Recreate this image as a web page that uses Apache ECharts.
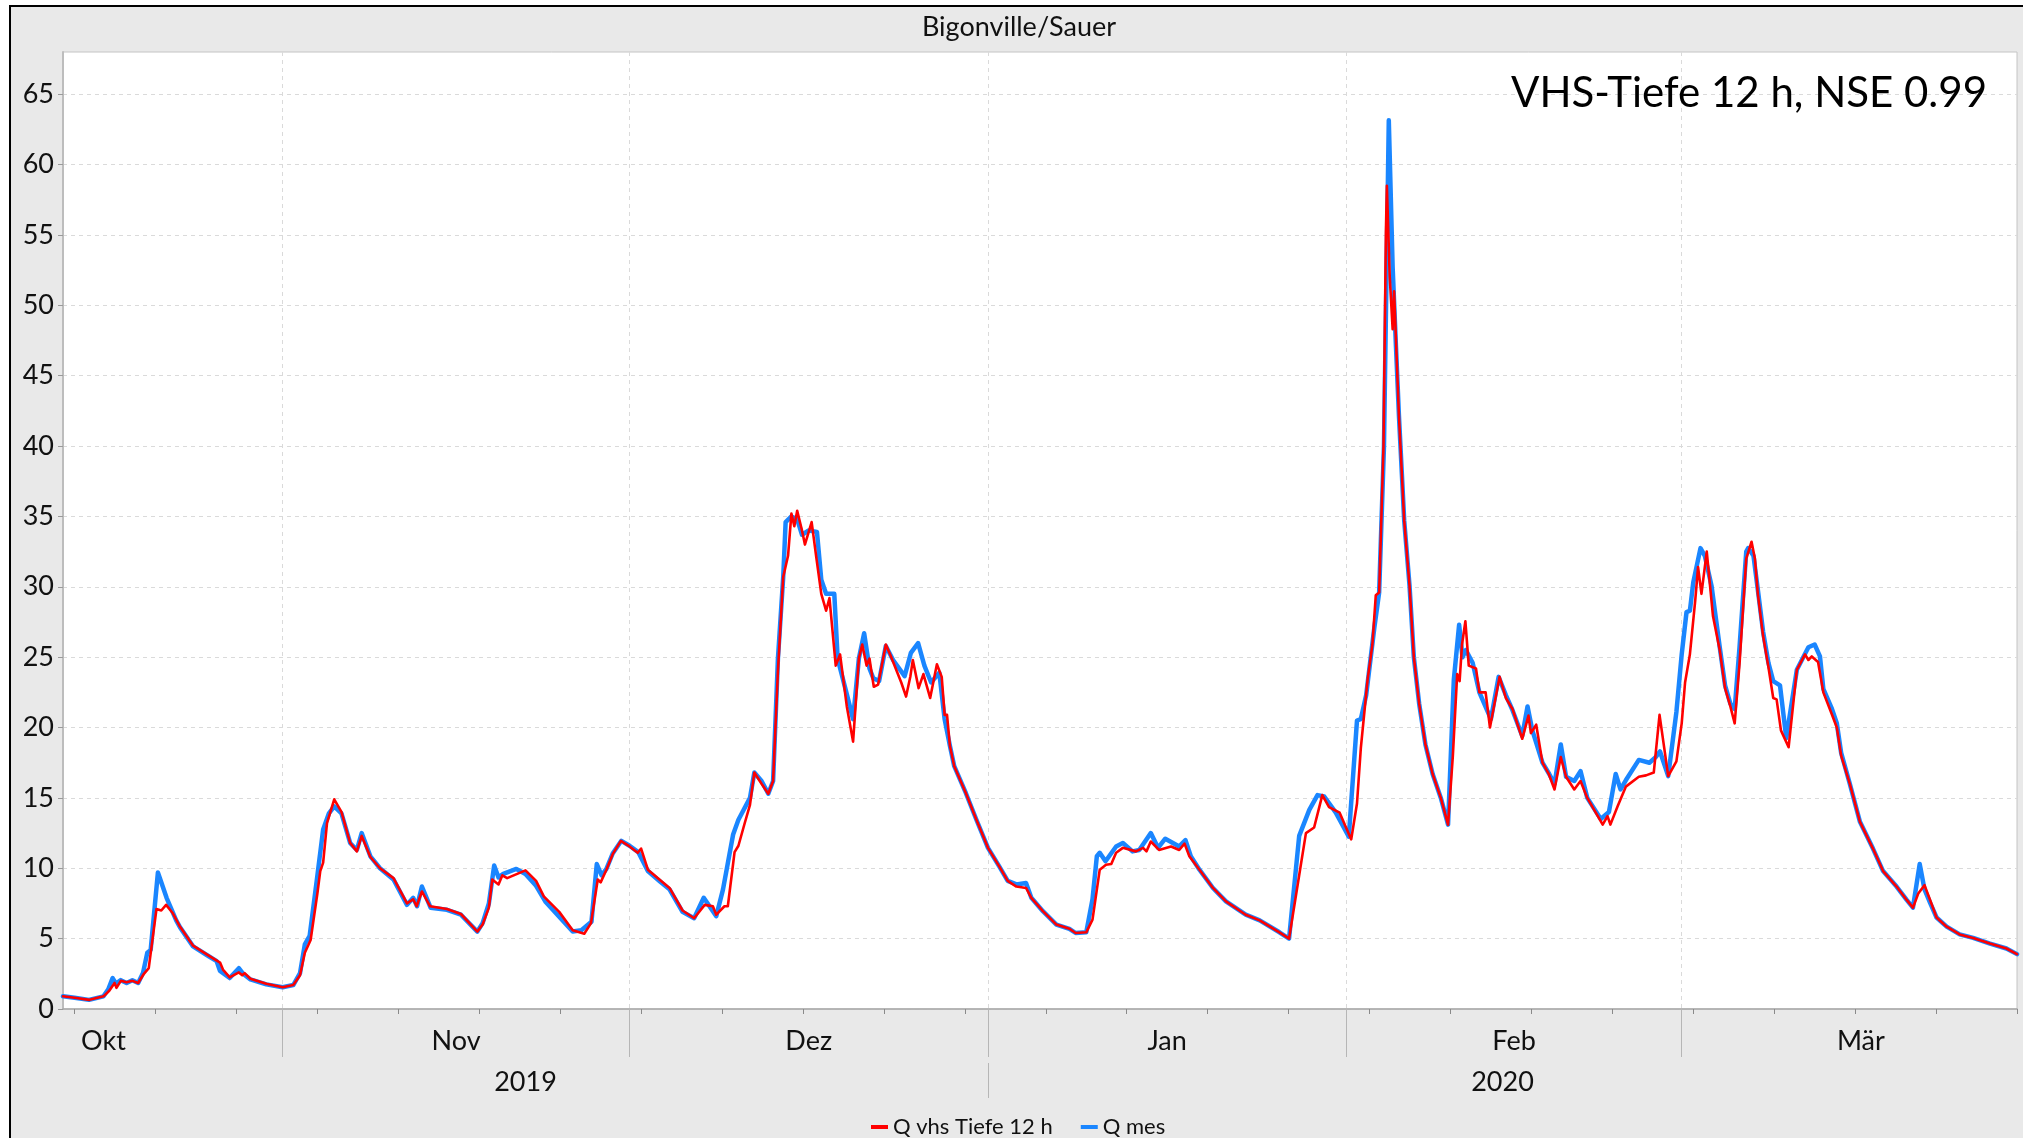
<!DOCTYPE html>
<html>
<head>
<meta charset="utf-8">
<title>Bigonville/Sauer</title>
<script src="https://cdn.jsdelivr.net/npm/echarts@6/dist/echarts.min.js"></script>
<style>
  html, body { margin: 0; padding: 0; background: #fff; }
  #chart { width: 2023px; height: 1138px; }
</style>
</head>
<body>
<div id="chart"></div>
<script>
// Month and year labels of the time axis, value-axis ticks
const monthNames = ['Jan', 'Feb', 'Mär', 'Apr', 'Mai', 'Jun', 'Jul', 'Aug', 'Sep', 'Okt', 'Nov', 'Dez'];
const yearLabels = [2019, 2020];
const yTicks = [0, 5, 10, 15, 20, 25, 30, 35, 40, 45, 50, 55, 60, 65];
const seriesNames = ['Q vhs Tiefe 12 h', 'Q mes'];
const timeRange = ['2019-10-13 00', '2020-03-30 00'];

// Simulated discharge, VHS model with 12 h depth
const qVhs = [
  ['2019-10-13 00', 0.9], ['2019-10-14 00', 0.8], ['2019-10-15 07', 0.65], ['2019-10-16 12', 0.9],
  ['2019-10-17 00', 1.3], ['2019-10-17 11', 1.85], ['2019-10-17 15', 1.5], ['2019-10-18 00', 2.0],
  ['2019-10-18 12', 1.9], ['2019-10-19 00', 2.0], ['2019-10-19 12', 1.85], ['2019-10-20 00', 2.5],
  ['2019-10-20 10', 2.9], ['2019-10-20 14', 2.8], ['2019-10-21 02', 7.1], ['2019-10-21 12', 7.0],
  ['2019-10-21 22', 7.4], ['2019-10-22 12', 6.8], ['2019-10-23 02', 5.9], ['2019-10-24 06', 4.5],
  ['2019-10-25 12', 3.85], ['2019-10-26 14', 3.3], ['2019-10-26 20', 2.8], ['2019-10-27 10', 2.25],
  ['2019-10-28 05', 2.6], ['2019-10-28 12', 2.4], ['2019-10-28 17', 2.55], ['2019-10-29 05', 2.15],
  ['2019-10-30 14', 1.8], ['2019-11-01 00', 1.55], ['2019-11-01 22', 1.7], ['2019-11-02 12', 2.4],
  ['2019-11-02 22', 4.0], ['2019-11-03 10', 4.9], ['2019-11-04 00', 8.2], ['2019-11-04 06', 9.8],
  ['2019-11-04 12', 10.4], ['2019-11-04 20', 13.2], ['2019-11-05 11', 14.9], ['2019-11-06 02', 14.0],
  ['2019-11-06 20', 11.8], ['2019-11-07 10', 11.2], ['2019-11-07 20', 12.3], ['2019-11-08 14', 10.8],
  ['2019-11-09 10', 10.0], ['2019-11-10 14', 9.3], ['2019-11-11 18', 7.5], ['2019-11-12 07', 7.8],
  ['2019-11-12 14', 7.3], ['2019-11-13 01', 8.35], ['2019-11-13 18', 7.3], ['2019-11-15 05', 7.1],
  ['2019-11-16 10', 6.75], ['2019-11-17 20', 5.5], ['2019-11-18 07', 6.0], ['2019-11-18 20', 7.2],
  ['2019-11-19 03', 9.2], ['2019-11-19 16', 8.85], ['2019-11-20 00', 9.5], ['2019-11-20 10', 9.3],
  ['2019-11-22 00', 9.85], ['2019-11-22 22', 9.1], ['2019-11-23 14', 8.0], ['2019-11-24 22', 6.9],
  ['2019-11-26 02', 5.6], ['2019-11-27 02', 5.35], ['2019-11-27 16', 6.1], ['2019-11-28 06', 9.2],
  ['2019-11-28 12', 9.0], ['2019-11-29 00', 9.9], ['2019-11-29 13', 11.0], ['2019-11-30 06', 11.95],
  ['2019-12-01 00', 11.55], ['2019-12-01 17', 11.1], ['2019-12-02 00', 11.4], ['2019-12-02 14', 9.9],
  ['2019-12-03 14', 9.2], ['2019-12-04 11', 8.6], ['2019-12-05 14', 7.0], ['2019-12-06 14', 6.45],
  ['2019-12-07 12', 7.4], ['2019-12-08 05', 7.3], ['2019-12-08 12', 6.7], ['2019-12-09 05', 7.3],
  ['2019-12-09 12', 7.3], ['2019-12-10 02', 11.15], ['2019-12-10 10', 11.6], ['2019-12-10 23', 13.2],
  ['2019-12-11 10', 14.5], ['2019-12-11 19', 16.8], ['2019-12-12 10', 16.0], ['2019-12-13 00', 15.3],
  ['2019-12-13 10', 16.2], ['2019-12-13 20', 24.0], ['2019-12-14 07', 30.7], ['2019-12-14 17', 32.2],
  ['2019-12-15 00', 35.2], ['2019-12-15 06', 34.3], ['2019-12-15 12', 35.4], ['2019-12-15 22', 34.0],
  ['2019-12-16 04', 33.0], ['2019-12-16 18', 34.6], ['2019-12-17 04', 32.0], ['2019-12-17 14', 29.5],
  ['2019-12-18 00', 28.3], ['2019-12-18 07', 29.2], ['2019-12-18 20', 24.4], ['2019-12-19 05', 25.2],
  ['2019-12-19 19', 21.5], ['2019-12-20 08', 19.0], ['2019-12-20 20', 24.9], ['2019-12-21 03', 25.9],
  ['2019-12-21 12', 24.4], ['2019-12-21 18', 24.9], ['2019-12-22 03', 22.9], ['2019-12-22 12', 23.05],
  ['2019-12-23 04', 25.9], ['2019-12-23 14', 25.1], ['2019-12-24 12', 23.2], ['2019-12-24 22', 22.2],
  ['2019-12-25 07', 23.65], ['2019-12-25 12', 24.8], ['2019-12-26 00', 22.8], ['2019-12-26 10', 23.8],
  ['2019-12-27 00', 22.1], ['2019-12-27 14', 24.5], ['2019-12-28 00', 23.6], ['2019-12-28 06', 20.9],
  ['2019-12-28 11', 20.9], ['2019-12-28 17', 18.7], ['2019-12-29 02', 17.25], ['2019-12-30 02', 15.35],
  ['2019-12-31 00', 13.45], ['2020-01-01 00', 11.45], ['2020-01-02 00', 10.1], ['2020-01-02 17', 9.1],
  ['2020-01-03 11', 8.7], ['2020-01-04 07', 8.6], ['2020-01-04 18', 7.9], ['2020-01-05 18', 6.95],
  ['2020-01-06 22', 6.0], ['2020-01-08 01', 5.7], ['2020-01-08 14', 5.4], ['2020-01-09 12', 5.45],
  ['2020-01-10 01', 6.35], ['2020-01-10 16', 9.9], ['2020-01-11 05', 10.25], ['2020-01-11 16', 10.3],
  ['2020-01-12 02', 11.1], ['2020-01-12 16', 11.45], ['2020-01-13 19', 11.2], ['2020-01-14 10', 11.45],
  ['2020-01-14 17', 11.2], ['2020-01-15 02', 11.9], ['2020-01-15 19', 11.3], ['2020-01-16 20', 11.55],
  ['2020-01-17 13', 11.3], ['2020-01-18 00', 11.75], ['2020-01-18 10', 10.85], ['2020-01-19 07', 9.9],
  ['2020-01-20 11', 8.6], ['2020-01-21 14', 7.65], ['2020-01-23 07', 6.7], ['2020-01-24 12', 6.3],
  ['2020-01-26 05', 5.45], ['2020-01-27 01', 5.0], ['2020-01-27 22', 9.5], ['2020-01-28 12', 12.5],
  ['2020-01-29 05', 12.9], ['2020-01-29 22', 15.2], ['2020-01-30 12', 14.35], ['2020-01-31 10', 13.95],
  ['2020-02-01 10', 12.05], ['2020-02-01 22', 14.6], ['2020-02-02 06', 18.55], ['2020-02-02 20', 23.4],
  ['2020-02-03 06', 25.9], ['2020-02-03 13', 29.4], ['2020-02-03 20', 29.6], ['2020-02-04 05', 40.0],
  ['2020-02-04 10', 55.2], ['2020-02-04 12', 58.5], ['2020-02-04 18', 52.0], ['2020-02-05 00', 48.3],
  ['2020-02-05 03', 51.0], ['2020-02-05 13', 42.2], ['2020-02-06 00', 34.7], ['2020-02-06 11', 30.1],
  ['2020-02-06 20', 25.0], ['2020-02-07 07', 21.7], ['2020-02-07 20', 18.8], ['2020-02-08 11', 16.7],
  ['2020-02-09 04', 15.0], ['2020-02-09 19', 13.1], ['2020-02-10 05', 18.0], ['2020-02-10 14', 23.8],
  ['2020-02-10 19', 23.3], ['2020-02-11 00', 25.9], ['2020-02-11 07', 27.55], ['2020-02-11 14', 24.4],
  ['2020-02-12 05', 24.2], ['2020-02-12 12', 22.5], ['2020-02-13 01', 22.5], ['2020-02-13 10', 20.0],
  ['2020-02-14 06', 23.6], ['2020-02-14 19', 22.1], ['2020-02-15 09', 21.3], ['2020-02-16 05', 19.2],
  ['2020-02-16 18', 20.85], ['2020-02-16 23', 19.6], ['2020-02-17 10', 20.2], ['2020-02-17 23', 17.5],
  ['2020-02-18 12', 16.7], ['2020-02-19 00', 15.6], ['2020-02-19 13', 17.9], ['2020-02-20 00', 16.5],
  ['2020-02-20 17', 15.6], ['2020-02-21 06', 16.2], ['2020-02-21 20', 15.0], ['2020-02-23 04', 13.1],
  ['2020-02-23 14', 13.7], ['2020-02-23 20', 13.1], ['2020-02-24 11', 14.4], ['2020-02-25 04', 15.8],
  ['2020-02-26 07', 16.5], ['2020-02-26 22', 16.6], ['2020-02-27 14', 16.8], ['2020-02-28 02', 20.9],
  ['2020-02-28 20', 16.55], ['2020-02-29 13', 17.6], ['2020-03-01 00', 20.3], ['2020-03-01 07', 23.2],
  ['2020-03-01 17', 25.2], ['2020-03-02 04', 29.0], ['2020-03-02 10', 31.4], ['2020-03-02 17', 29.5],
  ['2020-03-03 04', 32.5], ['2020-03-03 17', 27.9], ['2020-03-04 07', 25.5], ['2020-03-04 18', 22.8],
  ['2020-03-05 05', 21.5], ['2020-03-05 14', 20.3], ['2020-03-06 00', 24.5], ['2020-03-06 14', 32.0],
  ['2020-03-07 01', 33.2], ['2020-03-07 08', 32.0], ['2020-03-07 14', 29.5], ['2020-03-08 01', 26.5],
  ['2020-03-08 12', 24.3], ['2020-03-08 22', 22.1], ['2020-03-09 05', 22.0], ['2020-03-09 14', 19.8],
  ['2020-03-10 06', 18.6], ['2020-03-10 23', 24.1], ['2020-03-11 16', 25.2], ['2020-03-11 23', 24.8],
  ['2020-03-12 06', 25.05], ['2020-03-12 19', 24.65], ['2020-03-13 06', 22.5], ['2020-03-13 23', 21.0],
  ['2020-03-14 10', 20.0], ['2020-03-14 19', 18.0], ['2020-03-15 13', 16.0], ['2020-03-16 10', 13.3],
  ['2020-03-17 13', 11.4], ['2020-03-18 10', 9.8], ['2020-03-19 14', 8.7], ['2020-03-20 11', 7.75],
  ['2020-03-21 00', 7.2], ['2020-03-21 11', 8.2], ['2020-03-22 00', 8.8], ['2020-03-22 11', 7.8],
  ['2020-03-23 01', 6.5], ['2020-03-23 22', 5.85], ['2020-03-25 01', 5.3], ['2020-03-26 05', 5.05],
  ['2020-03-27 16', 4.65], ['2020-03-29 02', 4.3], ['2020-03-30 00', 3.9]
];

// Measured discharge
const qMes = [
  ['2019-10-13 00', 0.9], ['2019-10-14 00', 0.8], ['2019-10-15 06', 0.65], ['2019-10-16 12', 0.9],
  ['2019-10-16 22', 1.4], ['2019-10-17 07', 2.2], ['2019-10-17 14', 1.8], ['2019-10-18 00', 2.05],
  ['2019-10-18 12', 1.85], ['2019-10-19 00', 2.05], ['2019-10-19 12', 1.85], ['2019-10-19 22', 2.55],
  ['2019-10-20 07', 4.0], ['2019-10-20 14', 4.2], ['2019-10-21 05', 9.7], ['2019-10-21 12', 9.0],
  ['2019-10-21 23', 7.9], ['2019-10-22 19', 6.3], ['2019-10-23 03', 5.8], ['2019-10-24 06', 4.45],
  ['2019-10-25 12', 3.8], ['2019-10-26 07', 3.4], ['2019-10-26 14', 2.7], ['2019-10-27 10', 2.2],
  ['2019-10-28 05', 2.9], ['2019-10-28 14', 2.5], ['2019-10-29 05', 2.1], ['2019-10-30 14', 1.75],
  ['2019-11-01 00', 1.55], ['2019-11-01 22', 1.7], ['2019-11-02 12', 2.55], ['2019-11-02 22', 4.6],
  ['2019-11-03 08', 5.2], ['2019-11-03 23', 9.2], ['2019-11-04 12', 12.75], ['2019-11-05 00', 13.9],
  ['2019-11-05 11', 14.4], ['2019-11-06 02', 13.9], ['2019-11-06 20', 11.8], ['2019-11-07 10', 11.3],
  ['2019-11-07 20', 12.5], ['2019-11-08 14', 10.85], ['2019-11-09 10', 10.0], ['2019-11-10 14', 9.2],
  ['2019-11-11 18', 7.4], ['2019-11-12 07', 7.9], ['2019-11-12 15', 7.3], ['2019-11-13 01', 8.7],
  ['2019-11-13 19', 7.2], ['2019-11-15 05', 7.05], ['2019-11-16 10', 6.7], ['2019-11-17 20', 5.5],
  ['2019-11-18 07', 6.1], ['2019-11-18 20', 7.5], ['2019-11-19 07', 10.2], ['2019-11-19 16', 9.35],
  ['2019-11-20 02', 9.6], ['2019-11-21 05', 9.95], ['2019-11-22 00', 9.6], ['2019-11-22 22', 8.75],
  ['2019-11-23 18', 7.6], ['2019-11-24 22', 6.55], ['2019-11-26 02', 5.5], ['2019-11-26 20', 5.6],
  ['2019-11-27 17', 6.2], ['2019-11-28 04', 10.3], ['2019-11-28 14', 9.5], ['2019-11-29 00', 9.95],
  ['2019-11-29 13', 11.05], ['2019-11-30 07', 11.95], ['2019-12-01 00', 11.6], ['2019-12-01 18', 11.15],
  ['2019-12-02 14', 9.8], ['2019-12-03 14', 9.1], ['2019-12-04 11', 8.5], ['2019-12-05 14', 6.9],
  ['2019-12-06 14', 6.45], ['2019-12-07 10', 7.9], ['2019-12-08 12', 6.6], ['2019-12-09 02', 8.5],
  ['2019-12-09 23', 12.4], ['2019-12-10 10', 13.45], ['2019-12-11 10', 15.0], ['2019-12-11 19', 16.8],
  ['2019-12-12 10', 16.2], ['2019-12-13 00', 15.3], ['2019-12-13 10', 16.2], ['2019-12-13 20', 24.9],
  ['2019-12-14 07', 30.7], ['2019-12-14 12', 34.6], ['2019-12-15 00', 35.0], ['2019-12-15 12', 34.8],
  ['2019-12-15 22', 33.7], ['2019-12-16 12', 34.0], ['2019-12-17 05', 33.9], ['2019-12-17 14', 30.5],
  ['2019-12-18 00', 29.5], ['2019-12-18 17', 29.5], ['2019-12-19 00', 24.9], ['2019-12-19 18', 22.5],
  ['2019-12-20 08', 20.6], ['2019-12-20 20', 24.9], ['2019-12-21 07', 26.7], ['2019-12-21 18', 24.2],
  ['2019-12-22 02', 23.5], ['2019-12-22 14', 23.3], ['2019-12-23 04', 25.8], ['2019-12-23 19', 24.8],
  ['2019-12-24 19', 23.65], ['2019-12-25 08', 25.3], ['2019-12-25 23', 26.0], ['2019-12-26 12', 24.4],
  ['2019-12-27 02', 23.2], ['2019-12-27 19', 23.9], ['2019-12-28 06', 20.6], ['2019-12-28 17', 18.7],
  ['2019-12-29 02', 17.25], ['2019-12-30 02', 15.35], ['2019-12-31 00', 13.45], ['2020-01-01 00', 11.45],
  ['2020-01-02 00', 10.1], ['2020-01-02 17', 9.1], ['2020-01-03 11', 8.85], ['2020-01-04 07', 8.95],
  ['2020-01-04 18', 7.9], ['2020-01-05 18', 6.95], ['2020-01-06 22', 6.0], ['2020-01-08 01', 5.7],
  ['2020-01-08 14', 5.4], ['2020-01-09 12', 5.45], ['2020-01-10 01', 7.8], ['2020-01-10 10', 10.85],
  ['2020-01-10 16', 11.1], ['2020-01-11 04', 10.5], ['2020-01-12 02', 11.55], ['2020-01-12 16', 11.8],
  ['2020-01-13 12', 11.2], ['2020-01-14 02', 11.3], ['2020-01-15 02', 12.5], ['2020-01-15 17', 11.45],
  ['2020-01-16 08', 12.1], ['2020-01-17 13', 11.55], ['2020-01-18 02', 12.0], ['2020-01-18 13', 10.85],
  ['2020-01-19 07', 9.9], ['2020-01-20 11', 8.6], ['2020-01-21 14', 7.65], ['2020-01-23 07', 6.7],
  ['2020-01-24 12', 6.3], ['2020-01-26 05', 5.45], ['2020-01-27 01', 5.0], ['2020-01-27 22', 12.3],
  ['2020-01-28 19', 14.15], ['2020-01-29 12', 15.2], ['2020-01-30 02', 15.1], ['2020-01-31 02', 13.95],
  ['2020-02-01 05', 12.25], ['2020-02-01 22', 20.5], ['2020-02-02 06', 20.6], ['2020-02-02 17', 22.3],
  ['2020-02-03 10', 27.1], ['2020-02-03 20', 29.6], ['2020-02-04 06', 40.0], ['2020-02-04 16', 63.15],
  ['2020-02-05 00', 52.7], ['2020-02-05 07', 47.0], ['2020-02-05 13', 42.2], ['2020-02-06 00', 34.7],
  ['2020-02-06 11', 30.1], ['2020-02-06 20', 25.0], ['2020-02-07 07', 21.7], ['2020-02-07 20', 18.8],
  ['2020-02-08 11', 16.7], ['2020-02-09 04', 15.0], ['2020-02-09 19', 13.1], ['2020-02-10 07', 23.4],
  ['2020-02-10 18', 27.3], ['2020-02-11 01', 25.0], ['2020-02-11 08', 25.5], ['2020-02-11 22', 24.6],
  ['2020-02-12 12', 22.5], ['2020-02-13 12', 20.6], ['2020-02-14 04', 23.6], ['2020-02-14 19', 22.3],
  ['2020-02-15 08', 21.3], ['2020-02-16 05', 19.4], ['2020-02-16 16', 21.5], ['2020-02-17 02', 19.8],
  ['2020-02-17 23', 17.5], ['2020-02-18 13', 16.7], ['2020-02-19 00', 16.0], ['2020-02-19 13', 18.8],
  ['2020-02-20 00', 16.5], ['2020-02-20 17', 16.2], ['2020-02-21 06', 16.9], ['2020-02-21 20', 15.0],
  ['2020-02-23 00', 13.5], ['2020-02-23 17', 14.0], ['2020-02-24 07', 16.7], ['2020-02-24 17', 15.6],
  ['2020-02-25 04', 16.25], ['2020-02-26 07', 17.7], ['2020-02-27 05', 17.5], ['2020-02-27 18', 17.9],
  ['2020-02-28 03', 18.3], ['2020-02-28 20', 16.55], ['2020-02-29 13', 21.1], ['2020-03-01 00', 25.2],
  ['2020-03-01 10', 28.2], ['2020-03-01 17', 28.3], ['2020-03-02 00', 30.3], ['2020-03-02 15', 32.75],
  ['2020-03-03 00', 32.2], ['2020-03-03 14', 30.05], ['2020-03-04 07', 25.7], ['2020-03-04 18', 23.0],
  ['2020-03-05 05', 21.7], ['2020-03-05 14', 21.3], ['2020-03-06 00', 25.7], ['2020-03-06 14', 32.5],
  ['2020-03-06 18', 32.75], ['2020-03-07 05', 32.2], ['2020-03-07 14', 29.8], ['2020-03-08 01', 26.8],
  ['2020-03-08 12', 24.6], ['2020-03-08 22', 23.3], ['2020-03-09 12', 23.0], ['2020-03-10 01', 19.25],
  ['2020-03-10 23', 24.1], ['2020-03-11 23', 25.7], ['2020-03-12 12', 25.9], ['2020-03-12 23', 25.05],
  ['2020-03-13 06', 22.75], ['2020-03-13 23', 21.4], ['2020-03-14 10', 20.3], ['2020-03-14 19', 18.2],
  ['2020-03-15 13', 16.0], ['2020-03-16 10', 13.3], ['2020-03-17 13', 11.4], ['2020-03-18 10', 9.8],
  ['2020-03-19 14', 8.7], ['2020-03-20 11', 7.75], ['2020-03-21 00', 7.2], ['2020-03-21 14', 10.3],
  ['2020-03-22 00', 8.5], ['2020-03-22 11', 7.6], ['2020-03-23 01', 6.5], ['2020-03-23 22', 5.85],
  ['2020-03-25 01', 5.3], ['2020-03-26 05', 5.05], ['2020-03-27 16', 4.65], ['2020-03-29 02', 4.3],
  ['2020-03-30 00', 3.9]
];

// 'YYYY-MM-DD HH' -> local timestamp
function ts(s) {
  const [d, h] = s.split(' ');
  const [y, m, dd] = d.split('-').map(Number);
  return new Date(y, m - 1, dd, Number(h)).getTime();
}

const tMin = ts(timeRange[0]);
const tMax = ts(timeRange[1]);

// Weekly minor ticks on Mondays
const mondays = [];
for (let k = 0; ; k++) {
  const t = new Date(2019, 9, 14 + 7 * k).getTime();
  if (t > tMax) break;
  if (t >= tMin) mondays.push(t);
}

// Month boundaries (separator ticks + vertical grid) and month centres (labels)
const monthStarts = [];
const monthMids = [];
for (let k = 0; k < 6; k++) {
  const a = new Date(2019, 9 + k, 1).getTime();
  const b = new Date(2019, 10 + k, 1).getTime();
  if (a > tMin && a < tMax) monthStarts.push(a);
  monthMids.push((a + b) / 2);
}

// Year boundary and centre of the visible part of each year
const yearStarts = yearLabels.slice(1).map(y => new Date(y, 0, 1).getTime());
const yearMids = yearLabels.map(y => {
  const a = Math.max(tMin, new Date(y, 0, 1).getTime());
  const b = Math.min(tMax, new Date(y + 1, 0, 1).getTime());
  return (a + b) / 2;
});

const FONT = 'Lato, "Noto Sans", sans-serif';
const GRID_LINE = { color: '#dadada', width: 1, type: [4, 4] };

const chart = echarts.init(document.getElementById('chart'), null, { renderer: 'canvas' });

// The horizontal axes are plain value axes over timestamps with explicit tick lists
const timeAxisBase = { type: 'value', min: tMin, max: tMax, position: 'bottom', scale: true };

chart.setOption({
  animation: false,
  backgroundColor: '#ffffff',
  graphic: [
    {
      type: 'rect', z: -10, silent: true,
      shape: { x: 10, y: 6, width: 2040, height: 1160 },
      style: { fill: '#e9e9e9', stroke: '#000', lineWidth: 2 }
    },
    {
      type: 'text', z: 50, x: 1019, y: 27,
      style: { text: 'Bigonville/Sauer', fontSize: 27, fontFamily: FONT, fill: '#111', align: 'center', verticalAlign: 'middle' }
    },
    {
      type: 'text', z: 50, x: 1987, y: 93,
      style: { text: 'VHS-Tiefe 12 h, NSE 0.99', fontSize: 42, fontFamily: FONT, fill: '#000', align: 'right', verticalAlign: 'middle' }
    }
  ],
  legend: {
    data: seriesNames,
    left: 866,
    top: 1111,
    icon: 'rect',
    itemWidth: 17,
    itemHeight: 4,
    itemGap: 28,
    textStyle: { fontSize: 22, color: '#111', fontFamily: FONT }
  },
  grid: {
    left: 63, top: 52, right: 6, bottom: 129,
    show: true, backgroundColor: '#ffffff', borderColor: '#c4c4c4', borderWidth: 1
  },
  xAxis: [
    Object.assign({}, timeAxisBase, {
      axisLine: { onZero: false, lineStyle: { color: '#a8a8a8', width: 1.5 } },
      axisTick: { show: true, customValues: mondays, length: 5, lineStyle: { color: '#8a8a8a' } },
      axisLabel: { show: false },
      splitLine: { show: false }
    }),
    Object.assign({}, timeAxisBase, {
      axisLine: { show: false, onZero: false },
      axisTick: { show: true, customValues: monthStarts, length: 48, lineStyle: { color: '#b6b6b6' } },
      axisLabel: {
        show: true, customValues: monthMids, margin: 19, hideOverlap: false,
        fontSize: 27, fontFamily: FONT, color: '#111',
        formatter: v => monthNames[new Date(v).getMonth()]
      },
      splitLine: { show: true, lineStyle: GRID_LINE }
    }),
    Object.assign({}, timeAxisBase, {
      offset: 54,
      axisLine: { show: false, onZero: false },
      axisTick: { show: true, customValues: yearStarts, length: 35, lineStyle: { color: '#b6b6b6' } },
      axisLabel: {
        show: true, customValues: yearMids, margin: 6, hideOverlap: false,
        fontSize: 27, fontFamily: FONT, color: '#111',
        formatter: v => String(new Date(v).getFullYear())
      },
      splitLine: { show: false }
    })
  ],
  yAxis: {
    type: 'value', min: 0, max: 68,
    axisLine: { show: true, lineStyle: { color: '#bdbdbd', width: 2 } },
    axisTick: { show: true, customValues: yTicks, length: 5, lineStyle: { color: '#9a9a9a' } },
    axisLabel: { customValues: yTicks, margin: 9, fontSize: 27, fontFamily: FONT, color: '#111' },
    splitLine: { show: true, lineStyle: GRID_LINE }
  },
  series: [
    {
      name: seriesNames[1], type: 'line', xAxisIndex: 0, yAxisIndex: 0,
      data: qMes.map(p => [ts(p[0]), p[1]]),
      showSymbol: false, symbol: 'none', z: 2,
      itemStyle: { color: '#1a86ff' },
      lineStyle: { color: '#1a86ff', width: 4.5, join: 'round', cap: 'round' }
    },
    {
      name: seriesNames[0], type: 'line', xAxisIndex: 0, yAxisIndex: 0,
      data: qVhs.map(p => [ts(p[0]), p[1]]),
      showSymbol: false, symbol: 'none', z: 3,
      itemStyle: { color: '#ff0000' },
      lineStyle: { color: '#ff0000', width: 2.6, join: 'round', cap: 'round' }
    }
  ]
});
</script>
</body>
</html>
